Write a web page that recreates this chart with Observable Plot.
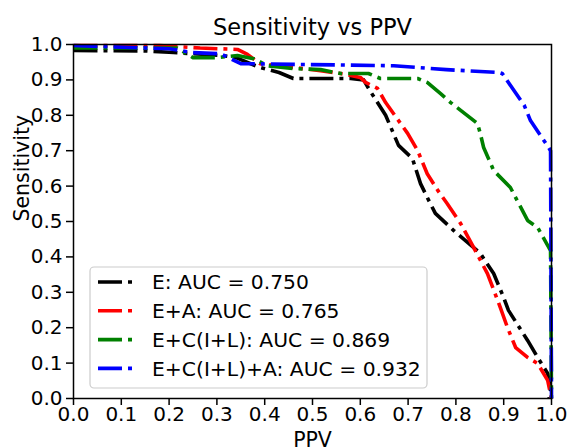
<!DOCTYPE html>
<html>
<head>
<meta charset="utf-8">
<script src="https://cdn.jsdelivr.net/npm/d3@7"></script>
<script src="https://cdn.jsdelivr.net/npm/@observablehq/plot@0.6"></script>
<style>
  html, body { margin: 0; padding: 0; background: white; }
</style>
</head>
<body>
<div id="chart"></div>
<script>
const title = "Sensitivity vs PPV";
const xLabel = "PPV";
const yLabel = "Sensitivity";
const xTicks = [0, 0.1, 0.2, 0.3, 0.4, 0.5, 0.6, 0.7, 0.8, 0.9, 1.0];
const yTicks = [0, 0.1, 0.2, 0.3, 0.4, 0.5, 0.6, 0.7, 0.8, 0.9, 1.0];

const seriesNames = ["E: AUC = 0.750", "E+A: AUC = 0.765", "E+C(I+L): AUC = 0.869", "E+C(I+L)+A: AUC = 0.932"];
const seriesColors = ["black", "red", "green", "blue"];

const ppvE  = [0, 0.15, 0.2, 0.31, 0.34, 0.39, 0.43, 0.46, 0.58, 0.607, 0.62, 0.653, 0.68, 0.709, 0.726, 0.74, 0.757, 0.795, 0.851, 0.879, 0.9, 0.91, 0.95, 0.971, 0.992, 0.998, 0.995];
const sensE = [0.983, 0.982, 0.978, 0.969, 0.963, 0.935, 0.921, 0.904, 0.904, 0.9, 0.87, 0.8, 0.715, 0.678, 0.607, 0.568, 0.523, 0.475, 0.41, 0.353, 0.285, 0.249, 0.164, 0.116, 0.071, 0.023, 0.0];

const ppvEA  = [0, 0.18, 0.265, 0.343, 0.364, 0.39, 0.46, 0.517, 0.559, 0.6, 0.611, 0.636, 0.653, 0.699, 0.72, 0.74, 0.762, 0.782, 0.81, 0.837, 0.866, 0.893, 0.908, 0.925, 0.95, 0.971, 0.992, 1.0];
const sensEA = [0.997, 0.997, 0.99, 0.986, 0.972, 0.946, 0.935, 0.926, 0.918, 0.907, 0.893, 0.876, 0.836, 0.749, 0.70, 0.635, 0.588, 0.55, 0.494, 0.427, 0.353, 0.257, 0.2, 0.144, 0.116, 0.099, 0.051, 0.0];

const ppvEC  = [0, 0.217, 0.25, 0.3, 0.343, 0.377, 0.406, 0.46, 0.517, 0.559, 0.586, 0.617, 0.642, 0.72, 0.74, 0.768, 0.789, 0.81, 0.845, 0.851, 0.858, 0.879, 0.914, 0.95, 0.971, 0.998, 1.0];
const sensEC = [0.99, 0.99, 0.963, 0.963, 0.969, 0.96, 0.94, 0.932, 0.929, 0.918, 0.918, 0.918, 0.904, 0.904, 0.893, 0.861, 0.836, 0.814, 0.777, 0.749, 0.709, 0.644, 0.596, 0.503, 0.483, 0.418, 0.0];

const ppvECA  = [0, 0.2, 0.25, 0.307, 0.35, 0.67, 0.78, 0.89, 0.897, 0.943, 0.956, 0.994, 0.998, 1.0];
const sensECA = [0.997, 0.988, 0.977, 0.974, 0.946, 0.94, 0.929, 0.921, 0.918, 0.828, 0.785, 0.709, 0.7, 0.0];

const seriesX = [ppvE, ppvEA, ppvEC, ppvECA];
const seriesY = [sensE, sensEA, sensEC, sensECA];

const dash = "24,6,4,6";
const font = "DejaVu Sans, sans-serif";

const lineMarks = seriesX.map((xs, i) =>
  Plot.line(xs.map((x, j) => ({x, y: seriesY[i][j]})), {
    x: "x", y: "y",
    stroke: seriesColors[i],
    strokeWidth: 3.6,
    strokeDasharray: dash,
    strokeLinecap: "butt",
    strokeLinejoin: "round",
    curve: "linear"
  })
);

const plot = Plot.plot({
  width: 572,
  height: 448,
  marginLeft: 73,
  marginRight: 21,
  marginTop: 44,
  marginBottom: 50,
  style: {fontFamily: font, fontSize: "20px", background: "white", color: "black", overflow: "visible"},
  x: {domain: [0, 1]},
  y: {domain: [0, 1]},
  marks: [
    ...lineMarks,
    Plot.frame({stroke: "black", strokeWidth: 1.5}),
    Plot.axisX(xTicks, {tickSize: 7, tickPadding: 1, tickFormat: d => d.toFixed(1), fontSize: 20, label: null, strokeWidth: 1.5}),
    Plot.axisY(yTicks, {tickSize: 7, tickPadding: 4, tickFormat: d => d.toFixed(1), fontSize: 20, label: null, strokeWidth: 1.5}),
    Plot.text([title], {frameAnchor: "top", lineAnchor: "middle", dy: -17, fontSize: 22.5, text: d => d}),
    Plot.text([xLabel], {frameAnchor: "bottom", lineAnchor: "middle", dy: 42, fontSize: 20.5, text: d => d}),
    Plot.text([yLabel], {frameAnchor: "left", lineAnchor: "middle", dx: -51, rotate: -90, fontSize: 20.5, text: d => d})
  ]
});

document.getElementById("chart").appendChild(plot);

// Legend (matplotlib-style, lower left inside axes)
const svg = d3.select(plot);
const lg = svg.append("g").attr("font-family", font).attr("font-size", 20.3).attr("text-anchor", "start");
lg.append("rect")
  .attr("x", 90).attr("y", 267).attr("width", 337).attr("height", 121)
  .attr("rx", 4).attr("ry", 4)
  .attr("fill", "white").attr("fill-opacity", 0.8)
  .attr("stroke", "#cccccc").attr("stroke-width", 1.2);
seriesNames.forEach((name, i) => {
  const cy = 282 + i * 28.8;
  lg.append("line")
    .attr("x1", 98).attr("x2", 138).attr("y1", cy).attr("y2", cy)
    .attr("stroke", seriesColors[i]).attr("stroke-width", 3.6)
    .attr("stroke-dasharray", dash);
  lg.append("text")
    .attr("x", 152).attr("y", cy).attr("dy", "0.35em")
    .attr("text-anchor", "start")
    .attr("fill", "black")
    .text(name);
});
</script>
</body>
</html>
